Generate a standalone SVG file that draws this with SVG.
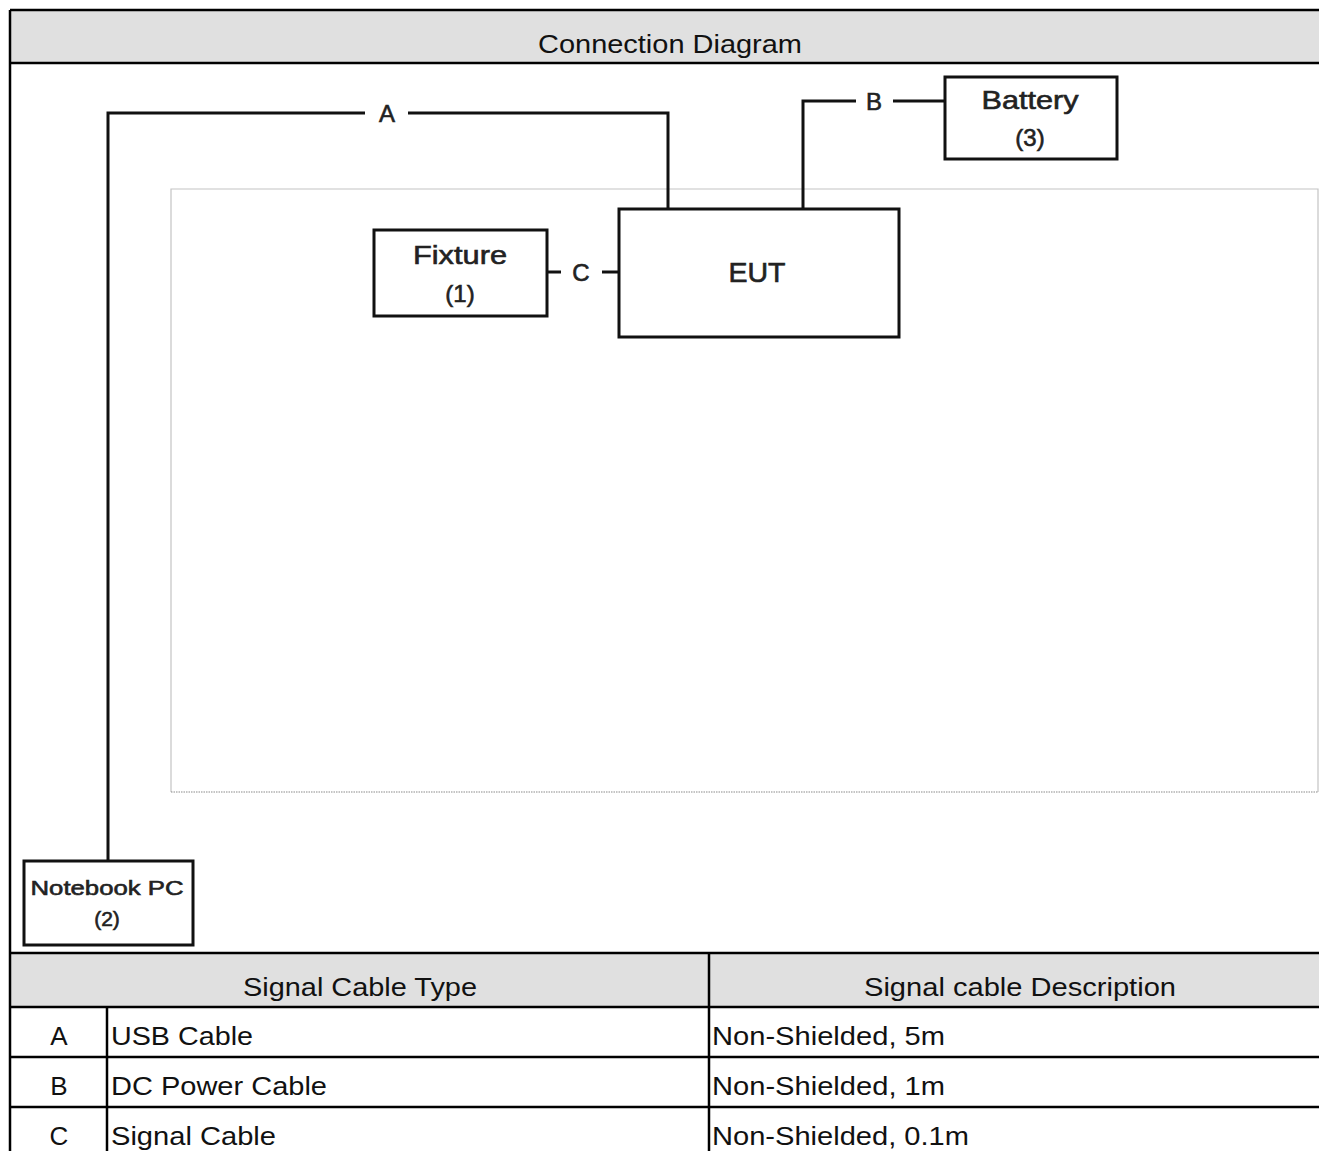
<svg xmlns="http://www.w3.org/2000/svg" width="1319" height="1151" viewBox="0 0 1319 1151">
<style>
.tbl{fill:none;stroke:#000;stroke-width:2.5}
.hdr{fill:#e0e0e0}
.t{font-family:"Liberation Sans",Arial,sans-serif;font-size:26px;fill:#111}
.d{font-family:"Liberation Sans",Arial,sans-serif;fill:#222;stroke:#222;stroke-width:0.6}
.box{fill:#fff;stroke:#111;stroke-width:3}
.wire{fill:none;stroke:#111;stroke-width:3}
</style>
<rect width="1319" height="1151" fill="#fff"/>
<g id="frame">
<rect class="hdr" x="10" y="10" width="1309" height="53"/>
<rect class="hdr" x="10" y="953" width="1309" height="54"/>
<line class="tbl" x1="10" y1="10" x2="1319" y2="10"/>
<line class="tbl" x1="10" y1="63" x2="1319" y2="63"/>
<line class="tbl" x1="10" y1="10" x2="10" y2="1151"/>
<line class="tbl" x1="10" y1="953" x2="1319" y2="953"/>
<line class="tbl" x1="10" y1="1007" x2="1319" y2="1007"/>
<line class="tbl" x1="10" y1="1057" x2="1319" y2="1057"/>
<line class="tbl" x1="10" y1="1107" x2="1319" y2="1107"/>
<line class="tbl" x1="107" y1="1007" x2="107" y2="1151"/>
<line class="tbl" x1="709" y1="953" x2="709" y2="1151"/>
<text class="t" x="670" y="53" text-anchor="middle" textLength="264" lengthAdjust="spacingAndGlyphs">Connection Diagram</text>
<text class="t" x="360" y="996" text-anchor="middle" textLength="234" lengthAdjust="spacingAndGlyphs">Signal Cable Type</text>
<text class="t" x="1020" y="996" text-anchor="middle" textLength="312" lengthAdjust="spacingAndGlyphs">Signal cable Description</text>
<text class="t" x="59" y="1045" text-anchor="middle">A</text>
<text class="t" x="59" y="1095" text-anchor="middle">B</text>
<text class="t" x="59" y="1145" text-anchor="middle">C</text>
<text class="t" x="111" y="1045" textLength="142" lengthAdjust="spacingAndGlyphs">USB Cable</text>
<text class="t" x="111" y="1095" textLength="216" lengthAdjust="spacingAndGlyphs">DC Power Cable</text>
<text class="t" x="111" y="1145" textLength="165" lengthAdjust="spacingAndGlyphs">Signal Cable</text>
<text class="t" x="712" y="1045" textLength="233" lengthAdjust="spacingAndGlyphs">Non-Shielded, 5m</text>
<text class="t" x="712" y="1095" textLength="233" lengthAdjust="spacingAndGlyphs">Non-Shielded, 1m</text>
<text class="t" x="712" y="1145" textLength="257" lengthAdjust="spacingAndGlyphs">Non-Shielded, 0.1m</text>
</g>
<g id="table-area">
<path d="M171,792 V189 H1318 V792" fill="none" stroke="#c4c4c4" stroke-width="1.2"/>
<line x1="171" y1="792" x2="1318" y2="792" stroke="#8a8a8a" stroke-width="1.2" stroke-dasharray="1.5 1"/>
</g>
<g id="connectors">
<path class="wire" d="M365,113 H108 V861"/>
<path class="wire" d="M408,113 H668 V209"/>
<path class="wire" d="M856,101 H803 V209"/>
<path class="wire" d="M893,101 H945"/>
<path class="wire" d="M547,272 H561"/>
<path class="wire" d="M602,272 H619"/>
<text class="d" x="387" y="122" font-size="24" text-anchor="middle">A</text>
<text class="d" x="874" y="110" font-size="24" text-anchor="middle">B</text>
<text class="d" x="581" y="281" font-size="24" text-anchor="middle">C</text>
</g>
<g id="eut">
<rect class="box" x="619" y="209" width="280" height="128"/>
<text class="d" x="757" y="282" font-size="27" text-anchor="middle" textLength="57" lengthAdjust="spacingAndGlyphs">EUT</text>
</g>
<g id="fixture">
<rect class="box" x="374" y="230" width="173" height="86"/>
<text class="d" x="460" y="264" font-size="26" text-anchor="middle" textLength="94" lengthAdjust="spacingAndGlyphs">Fixture</text>
<text class="d" x="460" y="302" font-size="24" text-anchor="middle">(1)</text>
</g>
<g id="battery">
<rect class="box" x="945" y="77" width="172" height="82"/>
<text class="d" x="1030" y="109" font-size="26" text-anchor="middle" textLength="97" lengthAdjust="spacingAndGlyphs">Battery</text>
<text class="d" x="1030" y="146" font-size="24" text-anchor="middle">(3)</text>
</g>
<g id="notebook">
<rect class="box" x="24" y="861" width="169" height="84"/>
<text class="d" x="107" y="895" font-size="21" text-anchor="middle" textLength="153" lengthAdjust="spacingAndGlyphs">Notebook PC</text>
<text class="d" x="107" y="926" font-size="21" text-anchor="middle">(2)</text>
</g>
</svg>
